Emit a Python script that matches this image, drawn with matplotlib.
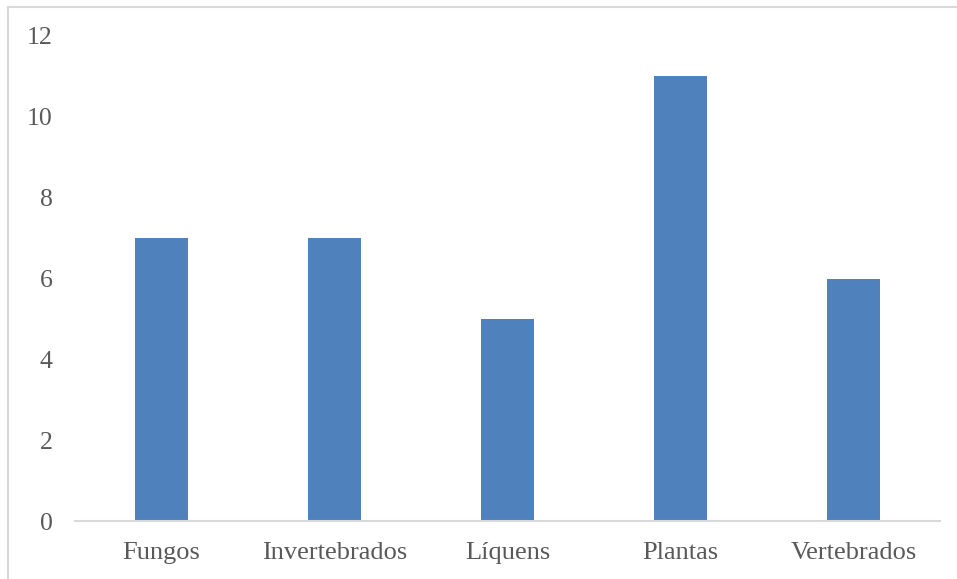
import matplotlib.pyplot as plt
from matplotlib.lines import Line2D

grupos = ['Fungos', 'Invertebrados', 'Líquens', 'Plantas', 'Vertebrados']
registos = [7, 7, 5, 11, 6]
yticks = [0, 2, 4, 6, 8, 10, 12]

plt.rcParams['font.family'] = ['Liberation Serif', 'DejaVu Serif']

fig = plt.figure(figsize=(9.57, 5.79), dpi=100)
ax = fig.add_axes([75 / 957, 1 - 521 / 579, 865 / 957, 485 / 579])

x = range(len(grupos))
ax.bar(x, registos, width=0.31, color='#4F81BD')

ax.set_xlim(-0.5, len(grupos) - 0.5)
ax.set_ylim(0, 12)
ax.set_yticks(yticks)
ax.set_xticks(list(x))
ax.set_xticklabels(grupos)
ax.tick_params(axis='x', length=0, labelsize=19, colors='#595959', pad=15)
ax.tick_params(axis='y', length=0, labelsize=18.5, colors='#595959', pad=16)

for side in ['top', 'right', 'left']:
    ax.spines[side].set_visible(False)
ax.spines['bottom'].set_color('#D9D9D9')
ax.spines['bottom'].set_linewidth(1.5)

# moldura do gráfico
fig.add_artist(Line2D([8 / 957, 1], [1 - 7 / 579, 1 - 7 / 579], color='#D9D9D9', lw=1.5))
fig.add_artist(Line2D([8 / 957, 8 / 957], [0, 1 - 7 / 579], color='#D9D9D9', lw=1.5))

fig.savefig('out.png', dpi=100)
